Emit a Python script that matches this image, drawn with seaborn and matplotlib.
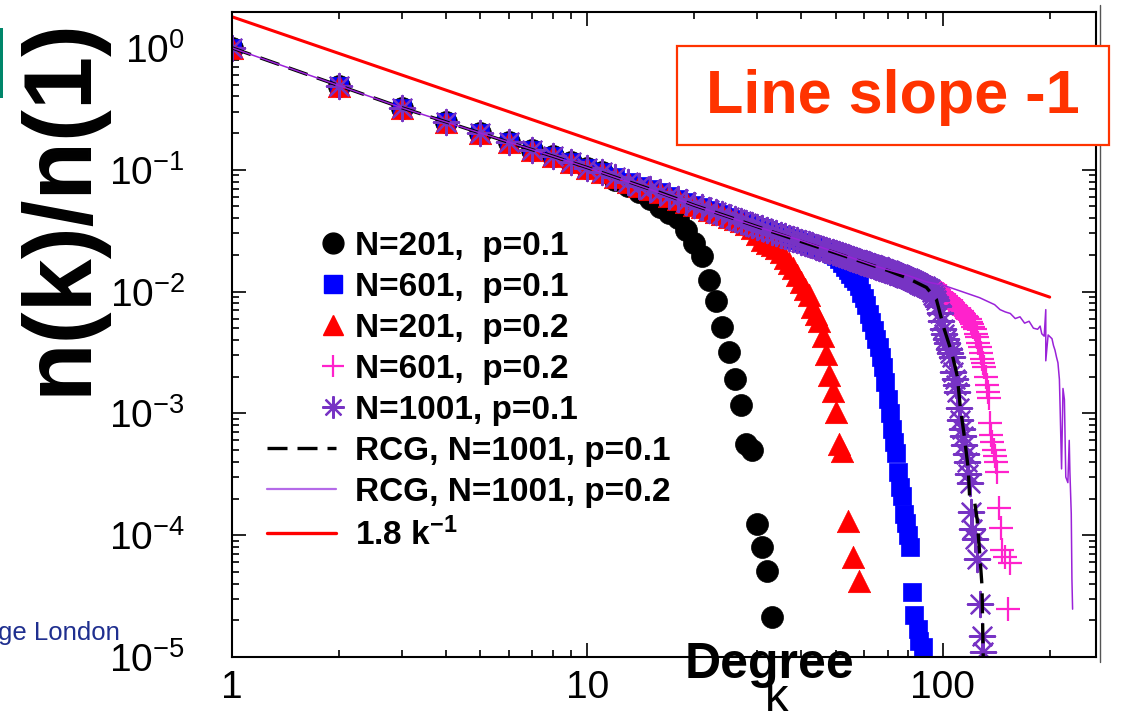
import pandas as pd
import seaborn as sns
import matplotlib.pyplot as plt
from matplotlib.lines import Line2D
from matplotlib.patches import Rectangle
from matplotlib.ticker import NullFormatter
from matplotlib.legend_handler import HandlerLine2D

# shared low-degree part, k = 1..100 (all series sit on top of each other there)
body = [1.0, 0.49, 0.323, 0.247, 0.2, 0.168, 0.146, 0.129, 0.115, 0.104,
        0.095, 0.087, 0.08, 0.074, 0.069, 0.065, 0.061, 0.057, 0.054, 0.051,
        0.049, 0.047, 0.045, 0.043, 0.041, 0.0395, 0.038, 0.0366, 0.0353, 0.0341,
        0.033, 0.032, 0.031, 0.0301, 0.0292, 0.0284, 0.0277, 0.027, 0.0263, 0.0257,
        0.0251, 0.0245, 0.024, 0.0234, 0.0229, 0.0224, 0.022, 0.0215, 0.0211, 0.0207,
        0.0203, 0.0199, 0.0195, 0.0192, 0.0188, 0.0185, 0.0182, 0.0179, 0.0176, 0.0173,
        0.017, 0.0167, 0.0165, 0.0162, 0.016, 0.0157, 0.0155, 0.0153, 0.0151, 0.0149,
        0.0146, 0.0144, 0.0142, 0.014, 0.0138, 0.0136, 0.0134, 0.0132, 0.013, 0.0128,
        0.0126, 0.0124, 0.0122, 0.012, 0.0118, 0.0116, 0.0114, 0.0112, 0.011, 0.0108,
        0.0106, 0.0104, 0.0102, 0.01, 0.0097, 0.0095, 0.0093, 0.0091, 0.0089, 0.0087]

# N=201, p=0.1
circ_k = list(range(12, 34))
circ_v = [0.083, 0.074, 0.065, 0.057, 0.049, 0.0444, 0.04, 0.032, 0.0252, 0.0194,
          0.0125, 0.0083, 0.0051, 0.0032, 0.0019, 0.00116, 0.00056, 0.0005, 0.000123,
          0.0000798, 0.0000507, 0.0000213]
# N=201, p=0.2
tri_k = list(range(28, 53)) + [54, 56, 58]
tri_v = [0.0355, 0.033, 0.0295, 0.0265, 0.0252, 0.024, 0.0229, 0.021, 0.019, 0.0173,
         0.0157, 0.0137, 0.0119, 0.0105, 0.0094, 0.0074, 0.0065, 0.0057, 0.0043, 0.00305,
         0.00205, 0.00154, 0.00102, 0.00056, 0.00049, 0.00013, 0.000066, 0.000042]
# N=601, p=0.1
sq_k = list(range(49, 84)) + [85, 86, 88]
sq_v = [0.0205, 0.0195, 0.0185, 0.017, 0.016, 0.015, 0.014, 0.013, 0.0121, 0.011,
        0.0098, 0.0089, 0.0077, 0.0066, 0.0056, 0.0048, 0.0041, 0.0035, 0.0029, 0.0024,
        0.0018, 0.0013, 0.001, 0.00075, 0.00058, 0.00047, 0.00033, 0.00025, 0.00021,
        0.00015, 0.000125, 0.0001, 0.00008, 0.000034, 0.000022, 0.000017, 0.0000135,
        0.000012]
# N=601, p=0.2
plus_k = list(range(90, 143)) + [144, 146, 147, 150, 153, 155]
plus_v = [0.0112, 0.011, 0.0108, 0.0106, 0.0104, 0.0102, 0.0101, 0.01, 0.0098, 0.0097,
          0.0096, 0.0094, 0.0092, 0.0089, 0.0086, 0.0083, 0.0081, 0.0079, 0.0077, 0.0075,
          0.0073, 0.0072, 0.0071, 0.0069, 0.0067, 0.0065, 0.0063, 0.0062, 0.006, 0.0059,
          0.0056, 0.0054, 0.0051, 0.0049, 0.0045, 0.0042, 0.0038, 0.0035, 0.0031, 0.0028,
          0.0026, 0.0024, 0.002, 0.0017, 0.0015, 0.00133, 0.00083, 0.00066, 0.00058,
          0.0005, 0.00045, 0.0004, 0.00033, 0.000166, 0.000114, 0.000075, 0.000066,
          0.0000247, 0.000059]
# N=1001, p=0.1
star_k = list(range(93, 122)) + [123, 125, 127, 129, 130]
star_v = [0.0099, 0.0094, 0.009, 0.0086, 0.0076, 0.0067, 0.0057, 0.0049, 0.0045, 0.0041,
          0.0038, 0.0034, 0.0031, 0.0029, 0.0022, 0.0019, 0.0017, 0.00149, 0.0011, 0.00089,
          0.00075, 0.00065, 0.00055, 0.00046, 0.0004, 0.00032, 0.00027, 0.000155, 0.000112,
          0.000093, 0.000064, 0.000027, 0.0000149, 0.000011]

# RCG curves
rcg1_k = [1, 2, 3, 4, 5, 6, 8, 10, 13, 16, 20, 25, 32, 40, 50, 63, 70, 80, 90, 96,
          101, 106, 110, 112, 115, 118, 119, 123, 125, 127, 129, 130, 130]
rcg1_v = [1.0, 0.49, 0.323, 0.247, 0.2, 0.168, 0.129, 0.104, 0.08, 0.065, 0.051, 0.041,
          0.032, 0.0257, 0.0207, 0.0165, 0.0149, 0.0128, 0.0108, 0.0086, 0.0049, 0.00316,
          0.002, 0.00114, 0.00065, 0.00035, 0.00021, 0.000186, 0.000135, 0.0000726,
          0.0000382, 0.00001, 0.000001]
rcg2_k = [1, 2, 3, 5, 8, 10, 15, 20, 30, 40, 50, 66, 80, 90, 100, 112, 127, 140, 145,
          150, 155, 160, 165, 170, 175, 180, 185, 188, 190, 193, 195, 195, 198, 203, 205,
          207, 209, 211, 213, 214, 216, 218, 220, 222, 225, 227, 228, 230, 231, 232]
rcg2_v = [1.0, 0.49, 0.323, 0.2, 0.129, 0.104, 0.069, 0.051, 0.0341, 0.0262, 0.021,
          0.0159, 0.0135, 0.012, 0.0113, 0.0101, 0.0089, 0.0078, 0.0071, 0.0068, 0.0066,
          0.006, 0.0062, 0.0055, 0.0057, 0.005, 0.0049, 0.0052, 0.0045, 0.0043, 0.0071,
          0.0027, 0.0044, 0.0041, 0.0036, 0.0033, 0.0029, 0.0026, 0.0019, 0.0011, 0.00035,
          0.0016, 0.0013, 0.0003, 0.00027, 0.0006, 0.00033, 0.00015, 0.0000436, 0.0000247]
fit_k = [1, 200]
fit_v = [1.8, 0.009]

labels = ["N=201,  p=0.1", "N=601,  p=0.1", "N=201,  p=0.2", "N=601,  p=0.2",
          "N=1001, p=0.1", "RCG, N=1001, p=0.1", "RCG, N=1001, p=0.2", r"1.8 k$^{-1}$"]


def series(ks, vs, n_body):
    return pd.DataFrame({"k": list(range(1, n_body + 1)) + ks, "v": body[:n_body] + vs})


sns.set_style("ticks")
plt.rcParams["font.family"] = ["Liberation Sans", "DejaVu Sans"]
plt.rcParams["mathtext.default"] = "regular"
plt.rcParams["text.color"] = "black"

fig = plt.figure(figsize=(11.28, 7.18), dpi=100)
ax = fig.add_axes([232 / 1128, 61 / 718, 864 / 1128, 645 / 718])
ax.set_xscale("log")
ax.set_yscale("log")

sns.scatterplot(data=series(circ_k, circ_v, 11), x="k", y="v", ax=ax, marker="o", s=250,
                color="black", edgecolor="black", linewidth=0.5, legend=False)
sns.scatterplot(data=series(sq_k, sq_v, 48), x="k", y="v", ax=ax, marker="s", s=170,
                color="#0000ff", edgecolor="#0000ff", linewidth=0.5, legend=False)
sns.scatterplot(data=series(plus_k, plus_v, 89), x="k", y="v", ax=ax, marker="+", s=280,
                color="#ff22cc", linewidth=1.6, legend=False)
sns.scatterplot(data=series(tri_k, tri_v, 27), x="k", y="v", ax=ax, marker="^", s=260,
                color="#ff0000", edgecolor="#ff0000", linewidth=0.5, legend=False)
sns.scatterplot(data=series(star_k, star_v, 92), x="k", y="v", ax=ax, marker=(8, 2, 0),
                s=330, color="#7733c4", linewidth=1.6, legend=False)
sns.lineplot(x=rcg1_k, y=rcg1_v, ax=ax, color="black", lw=2.4, linestyle=(0, (6, 3)),
             sort=False, estimator=None)
sns.lineplot(x=rcg2_k, y=rcg2_v, ax=ax, color="#9a22d8", lw=1.1, sort=False, estimator=None)
sns.lineplot(x=fit_k, y=fit_v, ax=ax, color="#ff0000", lw=2.2, sort=False, estimator=None)

ax.set_xlim(1, 270)
ax.set_ylim(1e-5, 1.97)
ax.set_xticks([1, 10, 100], labels=["1", "10", "100"])
ax.xaxis.set_minor_formatter(NullFormatter())
ax.yaxis.set_minor_formatter(NullFormatter())
ax.set_xlabel("")
ax.set_ylabel("")
ax.tick_params(which="both", direction="in", top=True, right=True, width=1.2, colors="black",
               labelsize=28)
ax.tick_params(which="major", length=10)
ax.tick_params(which="minor", length=5)
ax.tick_params(axis="x", pad=9)
ax.tick_params(axis="y", pad=34)
for sp in ax.spines.values():
    sp.set_linewidth(1.5)
    sp.set_color("black")


class RightMarker(HandlerLine2D):
    # put the single legend marker near the right end of the handle box
    def get_xdata(self, legend, xdescent, ydescent, width, height, fontsize):
        m = -xdescent + width - 0.1 * fontsize
        return [m - 1, m + 1], [m]


handles = [
    Line2D([], [], ls="none", marker="o", color="black", markersize=15),
    Line2D([], [], ls="none", marker="s", color="#0000ff", markersize=13),
    Line2D([], [], ls="none", marker="^", color="#ff0000", markersize=15),
    Line2D([], [], ls="none", marker="+", color="#ff22cc", markersize=16, mew=1.6),
    Line2D([], [], ls="none", marker=(8, 2, 0), color="#7733c4", markersize=16, mew=1.6),
    Line2D([], [], color="black", lw=2.4, ls=(0, (6, 3))),
    Line2D([], [], color="#b46ae8", lw=1.6),
    Line2D([], [], color="#ff0000", lw=2.4),
]
hm = {h: RightMarker() for h in handles[:5]}
leg = ax.legend(handles, labels, handler_map=hm, loc="upper left",
                bbox_to_anchor=(0.0405, 0.661), frameon=False, borderpad=0, borderaxespad=0,
                handlelength=2.07, handletextpad=0.57, labelspacing=0.3,
                prop={"size": 24, "weight": "bold"})
for t in leg.get_texts():
    t.set_color("black")

# annotation box
fig.add_artist(Rectangle((677 / 1128, 1 - 145 / 718), 432 / 1128, 99 / 718,
                         transform=fig.transFigure, fc="white", ec="#ff3300", lw=1.6,
                         zorder=5))
fig.text(893 / 1128, 1 - 97 / 718, "Line slope -1", ha="center", va="center", fontsize=44,
         weight="bold", color="#ff3300", zorder=6)

# axis titles
fig.text(86 / 1128, 1 - 395 / 718, "n(k)/n(1)", rotation=90, rotation_mode="anchor",
         ha="left", va="baseline", fontsize=69, weight="bold", color="black")
fig.text(770 / 1128, 1 - 678 / 718, "Degree", ha="center", va="baseline", fontsize=36,
         weight="bold", color="black", zorder=6)
fig.text(777 / 1128, 1 - 711 / 718, "k", ha="center", va="baseline", fontsize=34,
         color="black", zorder=6)

# bits of neighbouring slide content
fig.add_artist(Rectangle((0, 1 - 98 / 718), 3 / 1128, 70 / 718, transform=fig.transFigure,
                         fc="#00866a", ec="none"))
fig.text(120 / 1128, 1 - 640 / 718, "ge London", ha="right", va="baseline", fontsize=18.5,
         color="#1f2f8f")
fig.add_artist(Line2D([1099.5 / 1128] * 2, [1 - 5 / 718, 1 - 662 / 718],
                      transform=fig.transFigure, color="#555555", lw=1))

fig.savefig("out.png", dpi=100)
